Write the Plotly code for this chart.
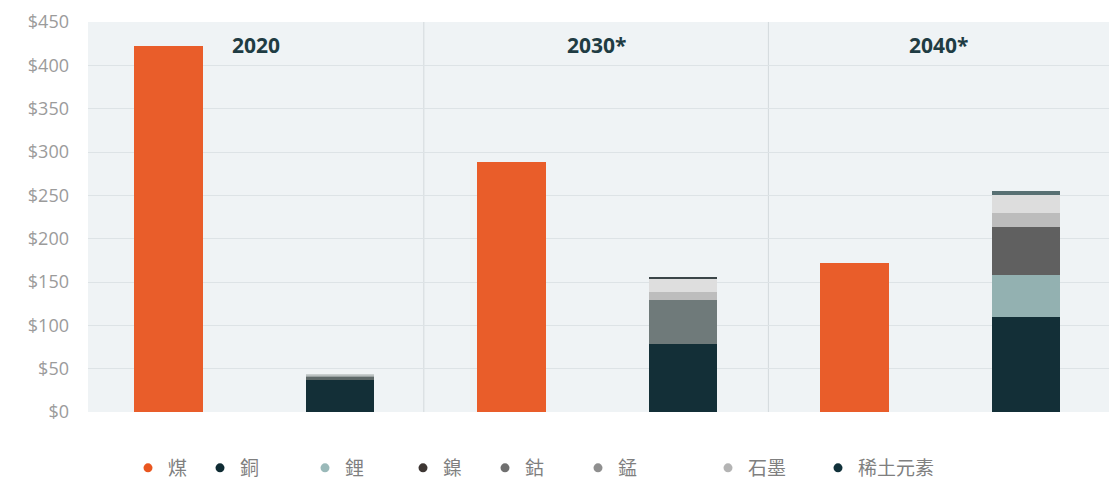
import plotly.graph_objects as go

# ---------------- data ----------------
bar_categories = ["2020 煤", "2020 礦物", "2030* 煤", "2030* 礦物", "2040* 煤", "2040* 礦物"]
panel_titles = ["2020", "2030*", "2040*"]

coal_values = [422, 0, 288, 0, 172, 0]
copper_values = [0, 37, 0, 78, 0, 110]
lithium_values = [0, 0, 0, 0, 0, 48]
nickel_values = [0, 0, 0, 0, 0, 0]
cobalt_values = [0, 4, 0, 51, 0, 56]
manganese_values = [0, 1, 0, 9, 0, 15.5]
graphite_values = [0, 1, 0, 15, 0, 21]
rare_earth_values = [0, 0.5, 0, 3, 0, 4.5]

y_tick_values = [0, 50, 100, 150, 200, 250, 300, 350, 400, 450]
y_tick_labels = ["$0", "$50", "$100", "$150", "$200", "$250", "$300", "$350", "$400", "$450"]

legend_names = ["煤", "銅", "鋰", "鎳", "鈷", "錳", "石墨", "稀土元素"]

# ---------------- styles ----------------
legend_colors = ["#e9561f", "#0f2b33", "#9ab9b9", "#3d3633", "#707070", "#8f8f8f", "#b4b4b4", "#11313a"]
legend_dot_px = [148, 220, 325, 423, 505, 598, 728, 838]

series = [
    ("煤", coal_values, "#e95d2a"),
    ("銅", copper_values, "#132f37"),
    ("鋰", lithium_values, "#93b1b1"),
    ("鎳", nickel_values, "#3d3633"),
    ("鈷", cobalt_values, ["#5d6868", "#5d6868", "#6f7a7a", "#6f7a7a", "#606060", "#606060"]),
    ("錳", manganese_values, ["#9aa2a2", "#9aa2a2", "#bdbdbd", "#bdbdbd", "#bcbcbc", "#bcbcbc"]),
    ("石墨", graphite_values, ["#b9c0c0", "#b9c0c0", "#dedede", "#dedede", "#dddddd", "#dddddd"]),
    ("稀土元素", rare_earth_values, ["#c8cece", "#c8cece", "#3b4548", "#3b4548", "#587073", "#587073"]),
]

L, R, T, B = 88, 0, 22, 67
W, H = 1109, 479
plot_w = W - L - R
plot_h = H - T - B
px_per_unit = plot_h / 450.0
base_px = H - B

fig = go.Figure()

for name, vals, color in series:
    fig.add_trace(go.Bar(
        x=bar_categories, y=vals, name=name, width=0.4,
        marker=dict(color=color, line=dict(width=0)),
        showlegend=False, hoverinfo="skip",
    ))

# Legend-only entries (dots), each in its own legend to place them freely
for i, (nm, col) in enumerate(zip(legend_names, legend_colors)):
    key = "legend" if i == 0 else f"legend{i+1}"
    fig.add_trace(go.Scatter(
        x=[None], y=[None], mode="markers", name=nm,
        marker=dict(symbol="circle", size=9, color=col),
        legend=key, showlegend=True,
    ))

legend_layout = {}
for i, px in enumerate(legend_dot_px):
    key = "legend" if i == 0 else f"legend{i+1}"
    legend_layout[key] = dict(
        x=(px - 20 - L) / plot_w, y=(base_px - 468) / plot_h,
        xanchor="left", yanchor="middle",
        orientation="h", bgcolor="rgba(0,0,0,0)", borderwidth=0,
        font=dict(family="Noto Sans CJK TC", size=19, color="#7f7f7f"),
        itemclick=False, itemdoubleclick=False,
    )

# Panel titles
x_left = -0.471
x_right = 5.485
dividers = [1.488, 3.498]
bounds = [x_left] + dividers + [x_right]
annotations = []
for i, t in enumerate(panel_titles):
    annotations.append(dict(
        x=(bounds[i] + bounds[i + 1]) / 2, xref="x",
        y=(base_px - 45) / plot_h, yref="paper",
        text=f"<b>{t}</b>", showarrow=False, xanchor="center", yanchor="middle",
        font=dict(family="Open Sans", size=21, color="#1f3c43"),
    ))

shapes = []
for d in dividers:
    shapes.append(dict(type="line", xref="x", yref="paper", x0=d, x1=d, y0=0, y1=1,
                       line=dict(color="#d3d9dc", width=1), layer="below"))

fig.update_layout(
    width=W, height=H,
    margin=dict(l=L, r=R, t=T, b=B, pad=0, autoexpand=False),
    barmode="stack",
    paper_bgcolor="white",
    plot_bgcolor="#eff3f5",
    xaxis=dict(type="category", range=[x_left, x_right], showticklabels=False,
               showgrid=False, zeroline=False, showline=False, ticks="", fixedrange=True),
    yaxis=dict(range=[0, 450], tickvals=y_tick_values, ticktext=y_tick_labels,
               showgrid=True, gridcolor="#dde3e6", gridwidth=1, zeroline=False,
               showline=False, ticks="", ticklabelstandoff=18,
               tickfont=dict(family="Open Sans", size=18, color="#9b9b9b"), fixedrange=True),
    annotations=annotations,
    shapes=shapes,
    **legend_layout,
)

fig.write_html("out.html")
